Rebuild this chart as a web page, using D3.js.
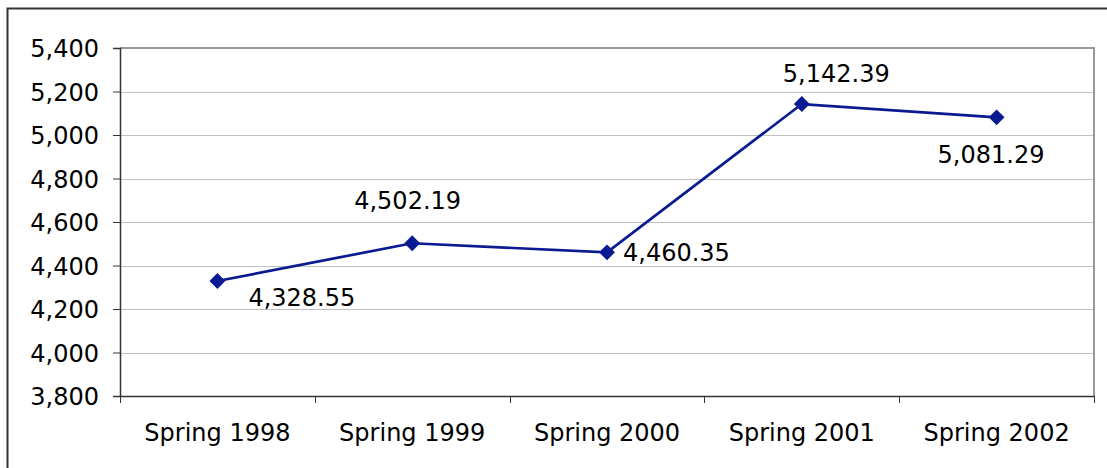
<!DOCTYPE html>
<html>
<head>
<meta charset="utf-8">
<script src="https://cdn.jsdelivr.net/npm/d3@7"></script>
<style>
  html, body { margin: 0; padding: 0; background: #fff; }
  svg { display: block; }
  text { font-family: "DejaVu Sans", Verdana, sans-serif; fill: #000; }
</style>
</head>
<body>
<svg id="chart" width="1107" height="468"></svg>
<script>
const categories = ["Spring 1998", "Spring 1999", "Spring 2000", "Spring 2001", "Spring 2002"];
const values = [4328.55, 4502.19, 4460.35, 5142.39, 5081.29];
const yTicks = [3800, 4000, 4200, 4400, 4600, 4800, 5000, 5200, 5400];
// label offsets relative to the marker (left edge of text, baseline)
const labelDx = [31, -58, 16, -19, -59];
const labelDy = [25, -34, 9, -22, 46];

const svg = d3.select("#chart");
const W = 1107, H = 468;
const plot = { left: 120, top: 48, right: 1094, bottom: 396 };
const lineColor = "#0a1a91";

// outer chart border
svg.append("rect")
  .attr("x", 7.5).attr("y", 8.5)
  .attr("width", W + 10).attr("height", H + 10)
  .attr("fill", "#fff").attr("stroke", "#333").attr("stroke-width", 2);

const x = d3.scaleBand().domain(categories).range([plot.left, plot.right]);
const y = d3.scaleLinear().domain([3800, 5400]).range([plot.bottom, plot.top]);

// gridlines
svg.append("g").selectAll("line").data(yTicks.slice(1, -1)).join("line")
  .attr("x1", plot.left).attr("x2", plot.right)
  .attr("y1", d => Math.round(y(d)) + 0.5).attr("y2", d => Math.round(y(d)) + 0.5)
  .attr("stroke", "#c0c0c0").attr("stroke-width", 1);

// plot frame top & right
svg.append("path")
  .attr("d", `M${plot.left},${plot.top} H${plot.right} V${plot.bottom}`)
  .attr("fill", "none").attr("stroke", "#9a9a9a").attr("stroke-width", 2);

// y axis
const yAxis = d3.axisLeft(y).tickValues(yTicks).tickSize(7).tickPadding(14)
  .tickFormat(d3.format(","));
const gy = svg.append("g").attr("transform", `translate(${plot.left},0)`).call(yAxis);
gy.select(".domain").attr("stroke", "#333").attr("stroke-width", 1.5);
gy.selectAll(".tick line").attr("stroke", "#333");
gy.selectAll(".tick text").attr("font-size", 24).attr("font-family", "DejaVu Sans, Verdana, sans-serif")
  .attr("fill", "#000").attr("dy", "0.37em");

// x axis
const xAxis = d3.axisBottom(x).tickSize(0).tickPadding(0);
const gx = svg.append("g").attr("transform", `translate(0,${plot.bottom})`).call(xAxis);
gx.select(".domain").attr("stroke", "#333").attr("stroke-width", 1.5);
gx.selectAll(".tick text").attr("font-size", 24).attr("font-family", "DejaVu Sans, Verdana, sans-serif")
  .attr("fill", "#000").attr("dy", null).attr("y", 45);
// category boundary ticks
const bounds = categories.map(c => x(c)).concat([x(categories[categories.length - 1]) + x.bandwidth()]);
gx.append("g").selectAll("line").data(bounds).join("line")
  .attr("x1", d => Math.round(d) + 0.5).attr("x2", d => Math.round(d) + 0.5)
  .attr("y1", 0).attr("y2", 7).attr("stroke", "#333").attr("stroke-width", 1);

// line
const pts = categories.map((c, i) => ({ c, v: values[i], i }));
const cx = d => x(d.c) + x.bandwidth() / 2;
svg.append("path").datum(pts)
  .attr("d", d3.line().x(cx).y(d => y(d.v)))
  .attr("fill", "none").attr("stroke", lineColor).attr("stroke-width", 2.7);

// markers
svg.append("g").selectAll("path").data(pts).join("path")
  .attr("d", d3.symbol().type(d3.symbolDiamond2).size(160))
  .attr("transform", d => `translate(${cx(d)},${y(d.v)})`)
  .attr("fill", lineColor);

// data labels
svg.append("g").selectAll("text").data(pts).join("text")
  .attr("x", d => cx(d) + labelDx[d.i])
  .attr("y", d => y(d.v) + labelDy[d.i])
  .attr("font-size", 24)
  .text(d => d3.format(",.2f")(d.v));
</script>
</body>
</html>
